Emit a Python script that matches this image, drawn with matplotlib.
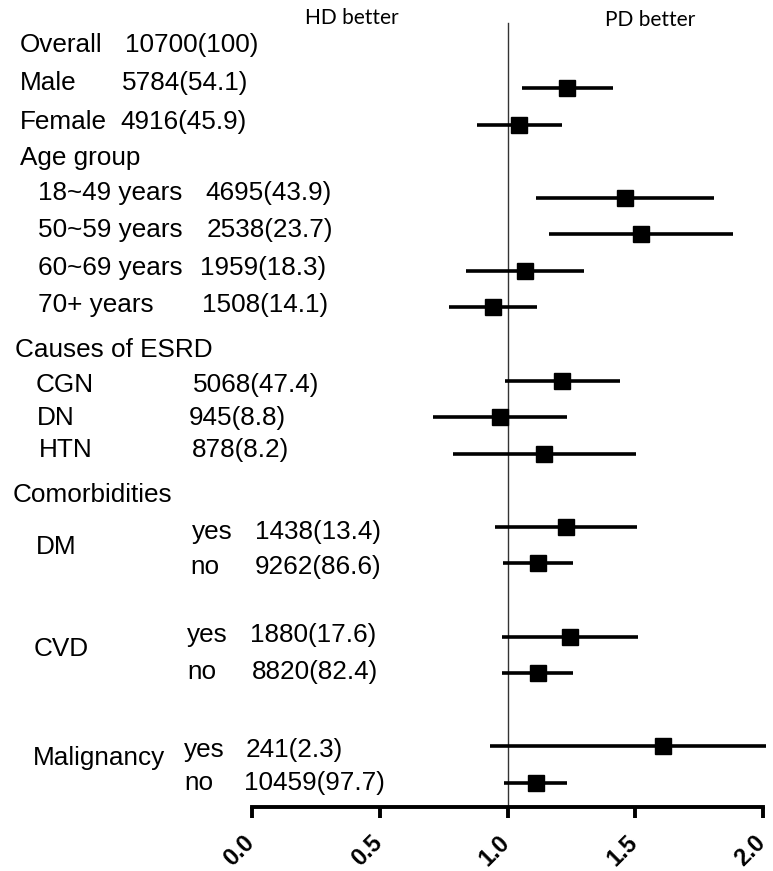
import matplotlib
matplotlib.use("Agg")
import matplotlib.pyplot as plt
from matplotlib.transforms import blended_transform_factory, ScaledTranslation

# ---------------- data ----------------
subgroups = ["Male", "Female", "18~49 years", "50~59 years", "60~69 years",
             "70+ years", "CGN", "DN", "HTN", "DM yes", "DM no",
             "CVD yes", "CVD no", "Malignancy yes", "Malignancy no"]
hr = [1.233, 1.045, 1.460, 1.522, 1.068, 0.942, 1.213, 0.971, 1.143,
      1.229, 1.119, 1.245, 1.119, 1.609, 1.111]
ci_low = [1.057, 0.881, 1.111, 1.162, 0.838, 0.770, 0.990, 0.709, 0.786,
          0.951, 0.984, 0.978, 0.978, 0.931, 0.986]
ci_high = [1.413, 1.213, 1.808, 1.883, 1.300, 1.115, 1.440, 1.232, 1.503,
           1.507, 1.256, 1.511, 1.256, 2.010, 1.233]

# left-hand table text
label_texts = ["Overall", "Male", "Female", "Age group", "18~49 years",
               "50~59 years", "60~69 years", "70+ years", "Causes of ESRD",
               "CGN", "DN", "HTN", "Comorbidities", "DM", "yes", "no",
               "CVD", "yes", "no", "Malignancy", "yes", "no"]
count_texts = ["10700(100)", "5784(54.1)", "4916(45.9)", "4695(43.9)",
               "2538(23.7)", "1959(18.3)", "1508(14.1)", "5068(47.4)",
               "945(8.8)", "878(8.2)", "1438(13.4)", "9262(86.6)",
               "1880(17.6)", "8820(82.4)", "241(2.3)", "10459(97.7)"]
x_ticks = [0.0, 0.5, 1.0, 1.5, 2.0]
tick_labels = ["0.0", "0.5", "1.0", "1.5", "2.0"]

# ---------------- layout ----------------
W, H = 773, 871
marker_rows = [1, 2, 4, 5, 6, 7, 9, 10, 11, 13, 14, 16, 17, 19, 20]
label_x = [20, 20, 20, 20, 38, 38, 38, 38, 15, 36, 37, 39, 13, 36, 192, 190,
           34, 187, 187, 33, 184, 184]
label_y = [-0.17, 0.86, 1.93, 2.91, 3.87, 4.88, 5.92, 6.93, 8.16, 9.12, 10.02,
           10.9, 12.13, 13.55, 13.14, 14.1, 16.34, 15.95, 16.97, 19.32, 19.1,
           20.0]
count_x = [125, 122, 120, 205, 207, 200, 202, 193, 189, 192, 255, 255, 250,
           252, 246, 244]
count_y = [-0.17, 0.86, 1.93, 3.87, 4.88, 5.92, 6.93, 9.12, 10.02, 10.9,
           13.14, 14.1, 15.95, 16.97, 19.1, 20.0]

plt.rcParams['font.family'] = ['Liberation Sans', 'DejaVu Sans']

fig = plt.figure(figsize=(W / 100, H / 100), dpi=100)
ax = fig.add_axes([252 / W, 1 - 807 / H, (763 - 252) / W, (807 - 14.8) / H])

ax.set_xlim(0, 2.0)
ax.set_ylim(20.66, -1.0)

# reference line
ax.plot([1.0, 1.0], [20.66, -0.78], color="#333333", lw=1.0, zorder=1,
        clip_on=False)

# CIs and point estimates
for r, e, lo, hi in zip(marker_rows, hr, ci_low, ci_high):
    ax.plot([lo, hi], [r, r], color="black", lw=2.6, solid_capstyle="butt",
            zorder=2, clip_on=False)
ax.plot(hr, marker_rows, ls="none", marker="s", ms=11, color="black",
        zorder=3, clip_on=False)

# spines / ticks
for s in ["top", "right", "left"]:
    ax.spines[s].set_visible(False)
ax.spines["bottom"].set_linewidth(2.8)
ax.spines["bottom"].set_bounds(0, 2.0)
ax.set_yticks([])
ax.set_xticks(x_ticks)
ax.set_xticklabels(tick_labels, rotation=45, ha="right", va="top",
                   rotation_mode="anchor", fontsize=17, fontweight="bold")
ax.tick_params(axis="x", length=8, width=2.8, pad=9)
shift = ScaledTranslation(-9 / 100, 0, fig.dpi_scale_trans)
for lab in ax.get_xticklabels():
    lab.set_transform(lab.get_transform() + shift)

# left table
trans = blended_transform_factory(fig.transFigure, ax.transData)
for t, x, y in zip(label_texts, label_x, label_y):
    ax.text(x / W, y, t, transform=trans, fontsize=18.8, ha="left",
            va="center", clip_on=False)
for t, x, y in zip(count_texts, count_x, count_y):
    ax.text(x / W, y, t, transform=trans, fontsize=18.8, ha="left",
            va="center", clip_on=False)

# headers
fig.text(352 / W, 1 - 18 / H, "HD better", fontsize=15, family="Lato",
         ha="center", va="center")
fig.text(650 / W, 1 - 20 / H, "PD better", fontsize=15, family="Lato",
         ha="center", va="center")

fig.savefig("out.png", dpi=100)
